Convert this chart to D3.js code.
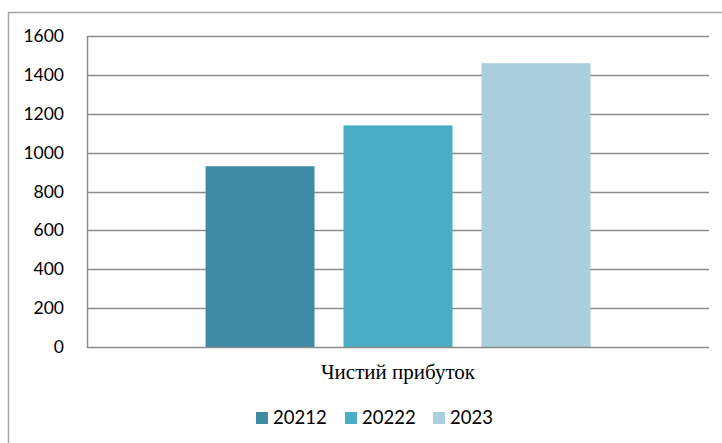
<!DOCTYPE html>
<html><head><meta charset="utf-8">
<script src="https://cdn.jsdelivr.net/npm/d3@7"></script>
<style>body{margin:0;background:#fff}svg{display:block}</style>
</head><body>
<script>
const categories = ["Чистий прибуток"];
const seriesNames = ["20212", "20222", "2023"];
const values2021 = [930];
const values2022 = [1140];
const values2023 = [1460];
const yTicks = [0, 200, 400, 600, 800, 1000, 1200, 1400, 1600];
const colors = ["#3e8ca4", "#4bacc6", "#aacedc"];

(function () {
const seriesValues = [values2021, values2022, values2023];
const W = 722, H = 443;
const svg = d3.select("body").append("svg").attr("width", W).attr("height", H);

// outer frame (left and top edges visible)
svg.append("path").attr("d", "M8.5,443 V12.5 H722")
  .attr("fill", "none").attr("stroke", "#a6a6a6").attr("stroke-width", 1.5);

const pl = 87, pr = 709, pt = 36, pb = 347;
const y = d3.scaleLinear().domain([0, 1600]).range([pb, pt]);
const x0 = d3.scaleBand().domain(categories).range([pl, pr]).paddingInner(0).paddingOuter(0.308);
const x1 = d3.scaleBand().domain(seriesNames).range([0, x0.bandwidth()]).paddingInner(0.21).paddingOuter(0);

// gridlines
svg.append("g").selectAll("line").data(yTicks.filter(d => d > 0)).join("line")
  .attr("x1", pl).attr("x2", pr)
  .attr("y1", d => Math.round(y(d)) + 0.5).attr("y2", d => Math.round(y(d)) + 0.5)
  .attr("stroke", "#8c8c8c").attr("stroke-width", 1.5);

// bars
const g = svg.append("g");
categories.forEach((c, ci) => {
  seriesNames.forEach((s, si) => {
    const v = seriesValues[si][ci];
    g.append("rect")
      .attr("x", x0(c) + x1(s)).attr("width", x1.bandwidth())
      .attr("y", y(v)).attr("height", y(0) - y(v))
      .attr("fill", colors[si]);
  });
});

// y axis
const yAxis = d3.axisLeft(y).tickValues(yTicks).tickFormat(d3.format("d")).tickSize(0).tickPadding(23);
const ya = svg.append("g").attr("transform", `translate(${pl},0)`).call(yAxis);
ya.select(".domain").remove();
ya.selectAll("text").attr("font-family", "Lato, 'Open Sans', sans-serif").attr("font-size", 17.5).attr("fill", "#000");

// axis lines
svg.append("path").attr("d", `M${pl + 0.5},${pt} V${Math.round(y(0)) + 0.5} H${pr}`)
  .attr("fill", "none").attr("stroke", "#8c8c8c").attr("stroke-width", 1.5);

// category label
const xa = d3.axisBottom(x0).tickSize(0).tickPadding(0);
const xg = svg.append("g").attr("transform", `translate(0,${pb})`).call(xa);
xg.select(".domain").remove();
xg.selectAll("text").attr("dy", null).attr("y", 32)
  .attr("font-family", "'Liberation Serif', 'Times New Roman', serif").attr("font-size", 21).attr("fill", "#000");

// legend
const legendX = [256, 345, 433];
const lg = svg.append("g");
seriesNames.forEach((s, i) => {
  lg.append("rect").attr("x", legendX[i]).attr("y", 412).attr("width", 12).attr("height", 12).attr("fill", colors[i]);
  lg.append("text").attr("x", legendX[i] + 17).attr("y", 424).text(s)
    .attr("font-family", "Lato, 'Open Sans', sans-serif").attr("font-size", 18.5).attr("fill", "#000");
});
})();
</script>
</body></html>
